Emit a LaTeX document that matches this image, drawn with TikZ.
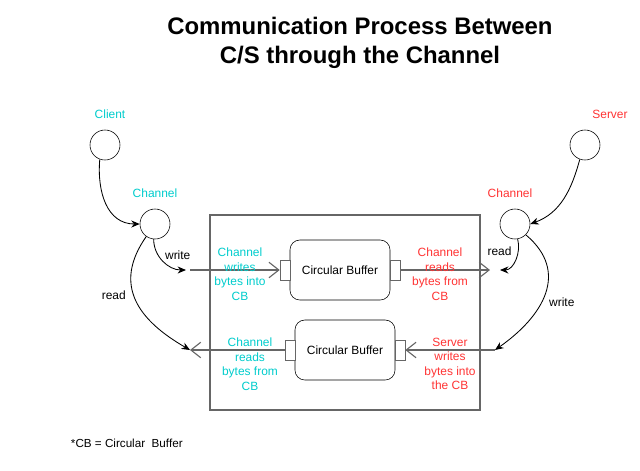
\documentclass[tikz,border=0pt]{standalone}
\usepackage{fontspec}
\setmainfont{Liberation Sans}
\usetikzlibrary{arrows.meta,positioning}
\definecolor{chcyan}{RGB}{0,204,204}
\definecolor{chred}{RGB}{255,51,51}
\definecolor{linegray}{RGB}{102,102,102}

\begin{document}
\begin{tikzpicture}[x=0.025cm, y=-0.025cm,
    peer/.style={draw, circle, minimum size=0.75cm, inner sep=0pt},
    buffer/.style={draw, rounded corners=7pt, minimum width=2.5cm, minimum height=1.5cm, font=\fontsize{8.5}{10.3}\selectfont},
    port/.style={draw, linegray, fill=white, minimum width=0.25cm, minimum height=0.5cm, inner sep=0pt},
    tag/.style={align=center, font=\fontsize{8.5}{10.3}\selectfont},
    flow/.style={-{Straight Barb[length=7pt, width=11pt]}, linegray, thick},
    call/.style={-{Stealth[length=6pt, width=5pt]}, semithick}
  ]
    \useasboundingbox (0,0) rectangle (640,470);

    % title
    \node[align=center, font=\fontsize{17}{20.5}\selectfont\bfseries] (title) at (360,43) {Communication Process Between\\C/S through the Channel};

    % end points and their channels
    \node[peer] (client) at (105,145) {};
    \node[tag, text=chcyan] (clientlbl) at (110,114) {Client};
    \node[peer] (chleft) at (155,224) {};
    \node[tag, text=chcyan] (chleftlbl) at (155,193) {Channel};
    \node[peer] (server) at (585,145) {};
    \node[tag, text=chred] (serverlbl) at (610,114) {Server};
    \node[peer] (chright) at (515,224) {};
    \node[tag, text=chred] (chrightlbl) at (510,193) {Channel};

    % channel box with the two buffers
    \node[draw, linegray, thick, minimum width=6.75cm, minimum height=4.875cm, inner sep=0pt] (box) at (345,312.5) {};
    \node[buffer] (bufa) at (340,270) {Circular Buffer};
    \node[port] (bufain) at (285,270) {};
    \node[port] (bufaout) at (395,270) {};
    \node[buffer] (bufb) at (345,350) {Circular Buffer};
    \node[port] (bufbout) at (290,350) {};
    \node[port] (bufbin) at (400,350) {};

    \coordinate (wrin) at (190,270);
    \coordinate (rdout) at (490,270);
    \coordinate (rdin) at (190,350);
    \coordinate (wrout) at (495,350);
    \coordinate (wrtip) at (186,270);
    \coordinate (rdtip) at (500,270);

    \draw[flow] (wrin) -- (bufain.west);
    \draw[flow] (bufaout.east) -- (rdout);
    \draw[flow] (bufbout.west) -- (rdin);
    \draw[flow] (wrout) -- (bufbin.east);

    \node[tag, text=chcyan] (wrtxt) at (240,274) {Channel\\writes\\bytes into\\CB};
    \node[tag, text=chred] (rdtxt) at (440,274) {Channel\\reads\\bytes from\\CB};
    \node[tag, text=chcyan] (rdtxtb) at (250,364) {Channel\\reads\\bytes from\\CB};
    \node[tag, text=chred] (wrtxtb) at (450,364) {Server\\writes\\bytes into\\the CB};

    % calls between end points and channels
    \draw[call] (client.250) to[out=-95, in=180, looseness=1.1] (chleft.west);
    \draw[call] (chleft.265) to[out=-90, in=180] node[tag, pos=0.35, right=1pt] {write} (wrtip);
    \draw[call] (chleft.235) to[out=-125, in=150, looseness=1.25] node[tag, pos=0.45, left=2pt] {read} (rdin);
    \draw[call] (server.250) to[out=-105, in=20] (chright.east);
    \draw[call] (chright.280) to[out=-75, in=0] node[tag, pos=0.3, left=1pt] {read} (rdtip);
    \draw[call] (chright.315) to[out=-40, in=35, looseness=1.25] node[tag, pos=0.57, right=2pt] {write} (wrout);

    % footnote
    \node[anchor=west, font=\fontsize{8.3}{10}\selectfont] (note) at (66,443) {*CB = Circular~ Buffer};
  \end{tikzpicture}
\end{document}
